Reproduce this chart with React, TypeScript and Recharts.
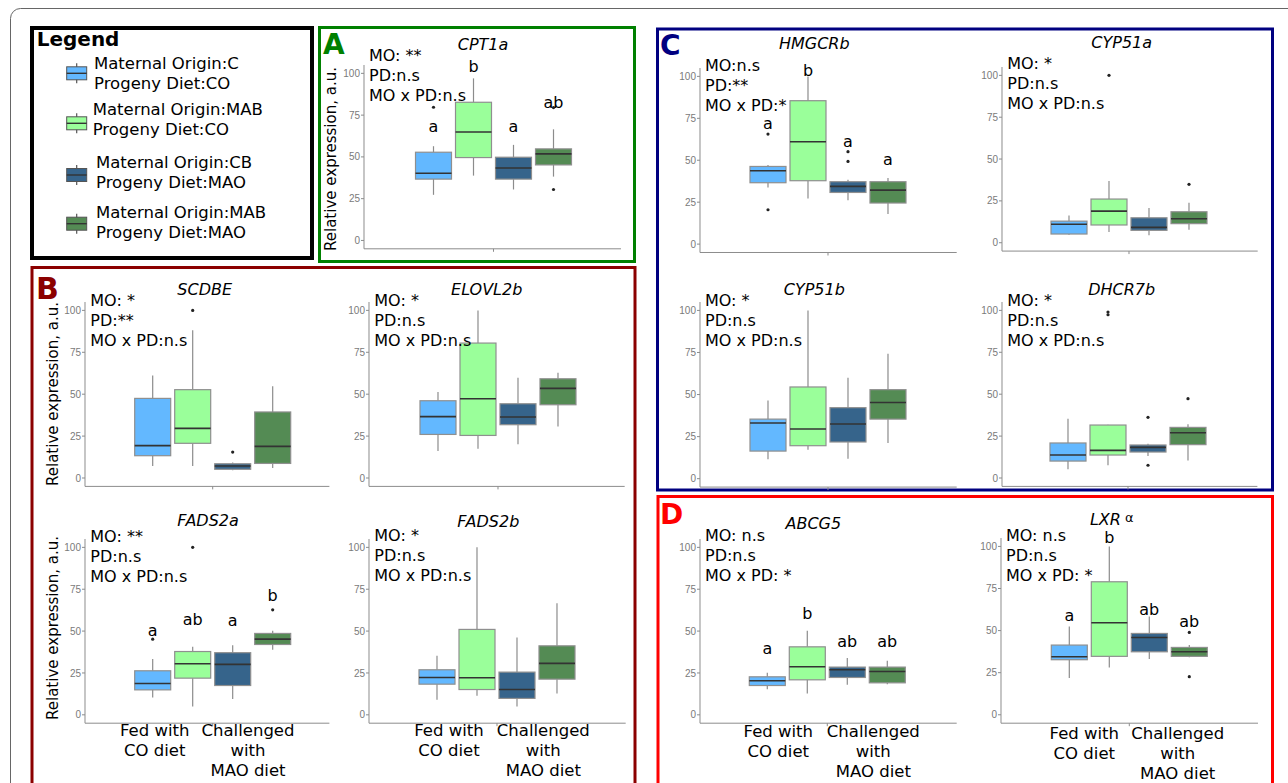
import React from 'react'
import { BarChart, Bar, XAxis, YAxis } from 'recharts'

// groups in the order they are drawn in every panel
const groups = ['C / CO', 'MAB / CO', 'CB / MAO', 'MAB / MAO']
const groupColors = ['#63B8FF', '#9AFF9A', '#36648B', '#548B54']
const legendLines = [
  ['Maternal Origin:C', 'Progeny Diet:CO'],
  ['Maternal Origin:MAB', 'Progeny Diet:CO'],
  ['Maternal Origin:CB', 'Progeny Diet:MAO'],
  ['Maternal Origin:MAB', 'Progeny Diet:MAO'],
]
const yTicks = [0, 25, 50, 75, 100]
const xLabelLeft = ['Fed with', 'CO diet']
const xLabelRight = ['Challenged', 'with', 'MAO diet']

// box stats per group: [lower whisker, q1, median, q3, upper whisker]
const cpt1aStats = [[27.3, 36.7, 40.2, 52.8, 56.4], [38.8, 49.6, 64.9, 82.7, 97], [30.5, 36.7, 43.4, 49.8, 57.2], [38.2, 45.2, 51.8, 54.8, 66.5]]
const cpt1aOut = [[79.7], [], [], [30.5, 79.5]]
const cpt1aSig = ['a', 'b', 'a', 'ab']
const cpt1aSigAt = [67.7, 103.6, 67.7, 82]

const scdbeStats = [[7.2, 13.3, 19.3, 47.5, 61.2], [7.2, 20.7, 29.6, 52.7, 88.1], [4.6, 5.2, 7.2, 8.5, 9.2], [6, 8.7, 18.9, 39.4, 54.7]]
const scdbeOut = [[], [100], [15.5], []]

const elovl2bStats = [[16.1, 26, 36.6, 46.1, 51.3], [17.5, 25.4, 47.3, 80.5, 100], [20.1, 31.8, 36.4, 44.3, 59.8], [30.8, 43.7, 53.5, 59.2, 62.8]]
const elovl2bOut = [[], [], [], []]

const fads2aStats = [[10.4, 14.9, 18.7, 26.3, 33.3], [5, 21.9, 30.5, 37.8, 40.6], [9.4, 17.5, 30.1, 37.1, 41.6], [38.8, 42, 45.2, 48.6, 50.2]]
const fads2aOut = [[45.2], [100], [], [62.7]]
const fads2aSig = ['a', 'ab', 'a', 'b']
const fads2aSigAt = [50.2, 56.6, 56.2, 71.1]

const fads2bStats = [[9, 18.3, 22.3, 26.9, 35.3], [11.4, 15.1, 22.1, 51, 100], [5, 9.8, 15.1, 25.5, 46.2], [12.7, 21.3, 30.7, 41.2, 66.7]]
const fads2bOut = [[], [], [], []]

const hmgcrbStats = [[33.8, 36.6, 43.7, 46.3, 47.1], [27.2, 37.8, 61, 85.5, 100], [26.2, 30.8, 34.4, 37.2, 38.4], [17.9, 24.5, 32.2, 37.2, 39.4]]
const hmgcrbOut = [[65.6, 20.5], [], [49.3, 55.1], []]
const hmgcrbSig = ['a', 'b', 'a', 'a']
const hmgcrbSigAt = [71.6, 103.4, 60.6, 50.1]

const cyp51aStats = [[4.8, 5.2, 11, 12.9, 16.3], [6.4, 10.6, 18.9, 26.1, 36.9], [4.4, 7.4, 9.2, 14.9, 20.7], [7.8, 11.4, 14.3, 18.5, 23.9]]
const cyp51aOut = [[], [100], [], [34.9]]

const cyp51bStats = [[11.5, 16.4, 33.1, 35.4, 46.5], [17.2, 19.6, 29.5, 54.5, 100], [11.9, 21.8, 32.5, 42.2, 60], [21.2, 35.4, 45.3, 52.9, 74.3]]
const cyp51bOut = [[], [], [], []]

const dhcr7bStats = [[5.2, 10.1, 13.7, 20.9, 35.4], [7.6, 13.7, 16.5, 31.6, 31.7], [13.1, 15.5, 18.3, 19.7, 20.5], [10.5, 19.9, 27, 30.2, 32]]
const dhcr7bOut = [[], [99, 97.4], [36.2, 7.6], [47.3]]

const abcg5Stats = [[15.3, 17.5, 20.3, 22.7, 25.1], [12.7, 20.9, 28.7, 40.6, 50.2], [17.9, 22.3, 26.9, 28.5, 33.9], [18.3, 19.1, 25.9, 28.5, 32.3]]
const abcg5Out = [[], [], [], []]
const abcg5Sig = ['a', 'b', 'ab', 'ab']
const abcg5SigAt = [39.2, 60.2, 43.6, 43.6]

const lxraStats = [[21.8, 32.7, 34.5, 41.4, 52.5], [28.1, 34.7, 54.7, 79, 100], [33.1, 37.4, 45.9, 48.3, 58.4], [34.1, 34.7, 37.4, 40, 41.4]]
const lxraOut = [[], [], [], [48.9, 22.6]]
const lxraSig = ['a', 'b', 'ab', 'ab']
const lxraSigAt = [58.8, 104.8, 62.4, 55.2]

const FONT = 'DejaVu Sans, Verdana, sans-serif'
const AXIS = '#8c8c8c'

const BoxShape = (props: any) => {
  const { x, y, width, height, payload, index, background } = props
  const d = payload
  const top = Math.min(y, y + height)
  const h = Math.abs(height)
  const py = (v: number) => top + (h * (d.hi - v)) / (d.hi - d.lo)
  const cx = x + width / 2
  // small centre tick on the x axis, between the 2nd and 3rd box
  const midTick =
    index === 1 && background ? (
      <line x1={x + width + 2} x2={x + width + 2} y1={background.y + background.height} y2={background.y + background.height + 3} stroke={AXIS} />
    ) : null
  return (
    <g>
      {midTick}
      <line x1={cx} x2={cx} y1={py(d.hi)} y2={py(d.q3)} stroke={AXIS} strokeWidth={1.2} />
      <line x1={cx} x2={cx} y1={py(d.q1)} y2={py(d.lo)} stroke={AXIS} strokeWidth={1.2} />
      <rect x={x} y={py(d.q3)} width={width} height={py(d.q1) - py(d.q3)} fill={groupColors[index]} stroke="#8f8f8f" strokeWidth={1.2} />
      <line x1={x} x2={x + width} y1={py(d.med)} y2={py(d.med)} stroke="#333" strokeWidth={1.6} />
      {d.out.map((o: number, k: number) => (
        <circle key={k} cx={cx} cy={py(o)} r={1.6} fill="#222" />
      ))}
      {d.sig ? (
        <text x={cx} y={py(d.sigAt) + 5} textAnchor="middle" fontSize={16} fontFamily={FONT} fill="#000">
          {d.sig}
        </text>
      ) : null}
    </g>
  )
}

interface PanelDef {
  title: string
  stats: number[][]
  out: number[][]
  sig?: string[]
  sigAt?: number[]
  stars: string[]
  ax: number
  pr: number
  pt: number
  pb: number
  padL: number
  padR: number
  titleX: number
  titleY: number
  starsY: number
}

const panels: PanelDef[] = [
  { title: 'CPT1a', stats: cpt1aStats, out: cpt1aOut, sig: cpt1aSig, sigAt: cpt1aSigAt, stars: ['MO: **', 'PD:n.s', 'MO x PD:n.s'], ax: 364, pr: 621, pt: 65.1, pb: 248.9, padL: 49.5, padR: 47.5, titleX: 483, titleY: 50, starsY: 61.3 },
  { title: 'SCDBE', stats: scdbeStats, out: scdbeOut, stars: ['MO: *', 'PD:**', 'MO x PD:n.s'], ax: 85.3, pr: 329.7, pt: 302.3, pb: 486.7, padL: 47.7, padR: 36.7, titleX: 204.7, titleY: 294.7, starsY: 305.7 },
  { title: 'ELOVL2b', stats: elovl2bStats, out: elovl2bOut, stars: ['MO: *', 'PD:n.s', 'MO x PD:n.s'], ax: 369.3, pr: 625, pt: 302.3, pb: 486.7, padL: 49, padR: 46.7, titleX: 486.7, titleY: 294.7, starsY: 305.7 },
  { title: 'FADS2a', stats: fads2aStats, out: fads2aOut, sig: fads2aSig, sigAt: fads2aSigAt, stars: ['MO: **', 'PD:n.s', 'MO x PD:n.s'], ax: 85.3, pr: 329.7, pt: 538.9, pb: 723.1, padL: 47.7, padR: 36.7, titleX: 208, titleY: 525.7, starsY: 542.3 },
  { title: 'FADS2b', stats: fads2bStats, out: fads2bOut, stars: ['MO: *', 'PD:n.s', 'MO x PD:n.s'], ax: 369.3, pr: 626, pt: 538.9, pb: 723.1, padL: 48, padR: 48.7, titleX: 488.3, titleY: 527.3, starsY: 540.7 },
  { title: 'HMGCRb', stats: hmgcrbStats, out: hmgcrbOut, sig: hmgcrbSig, sigAt: hmgcrbSigAt, stars: ['MO:n.s', 'PD:**', 'MO x PD:*'], ax: 700, pr: 956.7, pt: 67.9, pb: 252.4, padL: 48, padR: 48.7, titleX: 814.3, titleY: 49, starsY: 70.7 },
  { title: 'CYP51a', stats: cyp51aStats, out: cyp51aOut, stars: ['MO: *', 'PD:n.s', 'MO x PD:n.s'], ax: 1002.3, pr: 1258, pt: 67.3, pb: 251.4, padL: 47, padR: 48.7, titleX: 1121.7, titleY: 48, starsY: 69 },
  { title: 'CYP51b', stats: cyp51bStats, out: cyp51bOut, stars: ['MO: *', 'PD:n.s', 'MO x PD:n.s'], ax: 700, pr: 956.7, pt: 302.3, pb: 487.4, padL: 48, padR: 48.7, titleX: 814.3, titleY: 294.7, starsY: 305.7 },
  { title: 'DHCR7b', stats: dhcr7bStats, out: dhcr7bOut, stars: ['MO: *', 'PD:n.s', 'MO x PD:n.s'], ax: 1002.3, pr: 1257.7, pt: 302.3, pb: 486.7, padL: 46, padR: 49.4, titleX: 1121.7, titleY: 294.7, starsY: 305.7 },
  { title: 'ABCG5', stats: abcg5Stats, out: abcg5Out, sig: abcg5Sig, sigAt: abcg5SigAt, stars: ['MO: n.s', 'PD:n.s', 'MO x PD: *'], ax: 700, pr: 956.7, pt: 538.9, pb: 723.1, padL: 47.3, padR: 49.4, titleX: 813.3, titleY: 529, starsY: 540.7 },
  { title: 'LXRα', stats: lxraStats, out: lxraOut, sig: lxraSig, sigAt: lxraSigAt, stars: ['MO: n.s', 'PD:n.s', 'MO x PD: *'], ax: 1001, pr: 1258, pt: 537.9, pb: 723.1, padL: 48.3, padR: 48.7, titleX: 1111.7, titleY: 525, starsY: 540.7 },
]

const YW = 34
const TOPM = 16
const XH = 4

function GenePanel({ p }: { p: PanelDef }) {
  const rows = groups.map((g, i) => ({
    group: g,
    lo: p.stats[i][0],
    q1: p.stats[i][1],
    med: p.stats[i][2],
    q3: p.stats[i][3],
    hi: p.stats[i][4],
    out: p.out[i],
    sig: p.sig ? p.sig[i] : '',
    sigAt: p.sigAt ? p.sigAt[i] : 0,
  }))
  const width = p.pr - p.ax + YW
  const height = p.pb - p.pt + TOPM + XH
  return (
    <div style={{ position: 'absolute', left: p.ax - YW, top: p.pt - TOPM }}>
      <BarChart width={width} height={height} data={rows} margin={{ top: TOPM, right: 0, bottom: 0, left: 0 }} barSize={36}>
        <XAxis dataKey="group" tick={false} tickLine={false} axisLine={{ stroke: AXIS }} height={XH} padding={{ left: p.padL, right: p.padR }} />
        <YAxis
          width={YW}
          type="number"
          domain={[-5, 105]}
          ticks={yTicks}
          tickSize={3}
          tickMargin={1}
          tick={{ fontSize: 10, fill: '#7a7a7a', fontFamily: 'Liberation Sans, Arial, sans-serif' }}
          axisLine={{ stroke: AXIS }}
          tickLine={{ stroke: AXIS }}
        />
        <Bar dataKey={(d: any) => [d.lo, d.hi]} shape={BoxShape} isAnimationActive={false} />
      </BarChart>
    </div>
  )
}

function PanelTexts({ p }: { p: PanelDef }) {
  return (
    <g fontFamily={FONT}>
      {p.title === 'LXRα' ? (
        <text x={p.titleX} y={p.titleY} textAnchor="middle" fontSize={16}>
          <tspan fontStyle="italic">LXR</tspan>
          <tspan dx={4} dy={-3} fontSize={13}>α</tspan>
        </text>
      ) : (
        <text x={p.titleX} y={p.titleY} textAnchor="middle" fontSize={16} fontStyle="italic">
          {p.title}
        </text>
      )}
      {p.stars.map((s, i) => (
        <text key={i} x={p.ax + 5} y={p.starsY + i * 20} fontSize={16}>
          {s}
        </text>
      ))}
    </g>
  )
}

const xLabelSpots = [
  { left: 154.7, right: 248, y: 736 },
  { left: 449, right: 543.3, y: 736 },
  { left: 778.3, right: 873.3, y: 736.5 },
  { left: 1084.3, right: 1177.7, y: 739 },
]

const yTitleSpots = [
  { x: 331, y: 159 },
  { x: 53, y: 394 },
  { x: 53, y: 628 },
]

const legendY = [73.3, 123.3, 175, 223.7]
const legendTextX = [94, 92.7, 96, 96]
const legendTextY = [69.3, 115, 168.3, 218.3]

export default function App() {
  return (
    <div style={{ position: 'absolute', left: 0, top: 0, width: 1288, height: 783, overflow: 'hidden', background: '#fff' }}>
      <svg width={1288} height={783} style={{ position: 'absolute', left: 0, top: 0 }}>
        <rect x={10.5} y={8.5} width={1300} height={820} rx={10} fill="none" stroke="#666" strokeWidth={1} />
        <rect x={32} y={28} width={280} height={230} fill="none" stroke="#000" strokeWidth={4} />
        <rect x={319.5} y={27.5} width={315} height={234} fill="none" stroke="#008000" strokeWidth={3} />
        <rect x={32} y={267.5} width={603} height={540} fill="none" stroke="#8B0000" strokeWidth={3} />
        <rect x={657.5} y={29} width={615} height={461} fill="none" stroke="#000080" strokeWidth={3} />
        <rect x={658} y={496.5} width={614.5} height={300} fill="none" stroke="#FF0000" strokeWidth={3} />
      </svg>
      {panels.map((p) => (
        <GenePanel key={p.title} p={p} />
      ))}
      <svg width={1288} height={783} style={{ position: 'absolute', left: 0, top: 0, pointerEvents: 'none' }}>
        <g fontFamily={FONT} fontWeight="bold">
          <text x={323} y={54} fontSize={28} fill="#008000">A</text>
          <text x={36} y={299} fontSize={30} fill="#8B0000">B</text>
          <text x={660} y={55} fontSize={28} fill="#000080">C</text>
          <text x={660} y={524} fontSize={28} fill="#FF0000">D</text>
          <text x={36.7} y={46} fontSize={20} fill="#000">Legend</text>
        </g>
        {legendLines.map((lines, i) => (
          <g key={i}>
            <line x1={76.7} x2={76.7} y1={legendY[i] - 10} y2={legendY[i] + 10} stroke="#555" strokeWidth={1.2} />
            <rect x={66.7} y={legendY[i] - 6.5} width={20} height={13} fill={groupColors[i]} stroke="#555" strokeWidth={1} />
            <line x1={66.7} x2={86.7} y1={legendY[i]} y2={legendY[i]} stroke="#333" strokeWidth={1.4} />
            {lines.map((t, k) => (
              <text key={k} x={legendTextX[i]} y={legendTextY[i] + k * 20} fontSize={16.5} fontFamily={FONT}>
                {t}
              </text>
            ))}
          </g>
        ))}
        {panels.map((p) => (
          <PanelTexts key={p.title} p={p} />
        ))}
        {yTitleSpots.map((s, i) => (
          <text key={i} transform={`translate(${s.x},${s.y}) rotate(-90)`} textAnchor="middle" dominantBaseline="central" fontSize={15} fontFamily={FONT}>
            Relative expression, a.u.
          </text>
        ))}
        {xLabelSpots.map((s, i) => (
          <g key={i} fontFamily={FONT} fontSize={16.5} textAnchor="middle">
            {xLabelLeft.map((t, k) => (
              <text key={'l' + k} x={s.left} y={s.y + k * 20}>{t}</text>
            ))}
            {xLabelRight.map((t, k) => (
              <text key={'r' + k} x={s.right} y={s.y + k * 20}>{t}</text>
            ))}
          </g>
        ))}
      </svg>
    </div>
  )
}
